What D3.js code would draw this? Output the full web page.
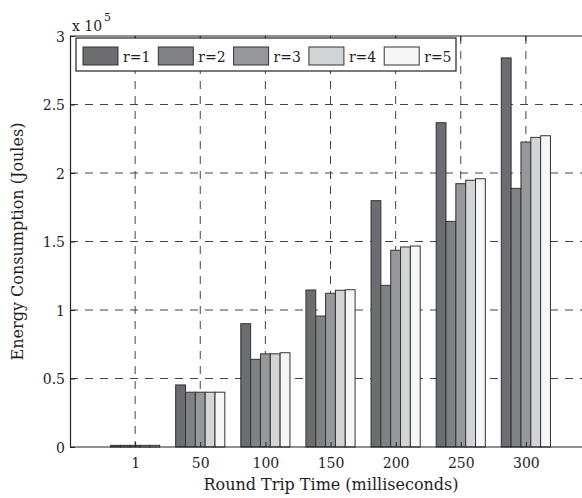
<!DOCTYPE html>
<html>
<head>
<meta charset="utf-8">
<script src="https://cdn.jsdelivr.net/npm/d3@7"></script>
<style>
  body { margin: 0; background: #fff; overflow: hidden; }
  svg { display: block; }
  text { font-family: "DejaVu Serif", serif; fill: #1e1e1e; }
</style>
</head>
<body>
<div id="chart"></div>
<script>
// round trip times (ms)
const categories = ['1', '50', '100', '150', '200', '250', '300']
const seriesNames = ['r=1', 'r=2', 'r=3', 'r=4', 'r=5']
// energy consumption, in units of 1e5 Joules
const r1 = [0.012, 0.453, 0.90, 1.146, 1.798, 2.367, 2.84]
const r2 = [0.012, 0.40, 0.64, 0.956, 1.18, 1.647, 1.888]
const r3 = [0.012, 0.40, 0.68, 1.122, 1.436, 1.922, 2.226]
const r4 = [0.012, 0.40, 0.68, 1.144, 1.46, 1.947, 2.26]
const r5 = [0.012, 0.40, 0.688, 1.148, 1.467, 1.958, 2.272]
const yTicks = [0, 0.5, 1, 1.5, 2, 2.5, 3]
const yTickLabels = ['0', '0.5', '1', '1.5', '2', '2.5', '3']
const colors = ['#6c6d71', '#808185', '#97989b', '#d3d4d6', '#f6f6f6']

const series = [r1, r2, r3, r4, r5]

const width = 582
const height = 498
const margin = { top: 36, bottom: 51, left: 70 }
// the axes box runs past the right edge of the picture
const plotWidth = 521
const visibleWidth = width - margin.left
const innerHeight = height - margin.top - margin.bottom

const svg = d3.select('#chart').append('svg')
  .attr('width', width)
  .attr('height', height)

const g = svg.append('g')
  .attr('transform', 'translate(' + margin.left + ',' + margin.top + ')')

// MATLAB style: group positions 1..7, limits 0..8
const x = d3.scaleLinear().domain([0, 8]).range([0, plotWidth])
const y = d3.scaleLinear().domain([0, 3]).range([innerHeight, 0])
const barW = 0.151

// grid
g.append('g').selectAll('line')
  .data(categories)
  .enter().append('line')
  .attr('x1', (d, i) => x(i + 1)).attr('x2', (d, i) => x(i + 1))
  .attr('y1', 0).attr('y2', innerHeight)
  .attr('stroke', '#444').attr('stroke-dasharray', '8,7')
g.append('g').selectAll('line')
  .data(yTicks.slice(1, -1))
  .enter().append('line')
  .attr('x1', 0).attr('x2', visibleWidth)
  .attr('y1', d => y(d)).attr('y2', d => y(d))
  .attr('stroke', '#444').attr('stroke-dasharray', '8,7')

// bars
series.forEach(function (vals, s) {
  g.append('g').selectAll('rect')
    .data(vals)
    .enter().append('rect')
    .attr('x', (d, i) => x(i + 1 + (s - 2.5) * barW))
    .attr('width', x(barW) - x(0))
    .attr('y', d => y(d))
    .attr('height', d => innerHeight - y(d))
    .attr('fill', colors[s])
    .attr('stroke', '#333')
    .attr('stroke-width', 1)
})

// axes
const xAxis = d3.axisBottom(x)
  .tickValues(d3.range(1, 8))
  .tickFormat((d) => categories[d - 1])
  .tickSize(-5).tickSizeOuter(0)
const gx = g.append('g').attr('transform', 'translate(0,' + innerHeight + ')').call(xAxis)
gx.select('.domain').attr('d', 'M0.5,0H' + visibleWidth)
gx.selectAll('.tick text').attr('y', 21).attr('dy', null)

const yAxis = d3.axisLeft(y)
  .tickValues(yTicks)
  .tickFormat((d, i) => yTickLabels[i])
  .tickSize(-5).tickSizeOuter(0).tickPadding(5)
const gy = g.append('g').call(yAxis)
gy.selectAll('.tick text').attr('y', 5).attr('dy', null)

// top ticks, no labels
g.append('g').selectAll('line')
  .data(d3.range(1, 8))
  .enter().append('line')
  .attr('x1', d => x(d)).attr('x2', d => x(d))
  .attr('y1', 0).attr('y2', 5)
  .attr('stroke', '#222')

g.selectAll('.domain').attr('stroke', '#222').attr('stroke-width', 1.2)
g.selectAll('.tick line').attr('stroke', '#222')
g.selectAll('.tick text').attr('font-size', 14).attr('font-family', 'DejaVu Serif').attr('fill', '#1e1e1e')

// box top
g.append('line').attr('x1', 0).attr('x2', visibleWidth).attr('y1', 0).attr('y2', 0)
  .attr('stroke', '#222').attr('stroke-width', 1.2)

// exponent
svg.append('text').attr('x', 72).attr('y', 31).attr('font-size', 14).text('x 10')
svg.append('text').attr('x', 104).attr('y', 21).attr('font-size', 11).text('5')

// labels
svg.append('text')
  .attr('x', 331).attr('y', 490)
  .attr('text-anchor', 'middle').attr('font-size', 16)
  .text('Round Trip Time (milliseconds)')
svg.append('text')
  .attr('transform', 'translate(23,' + (margin.top + innerHeight / 2) + ') rotate(-90)')
  .attr('text-anchor', 'middle').attr('font-size', 16)
  .text('Energy Consumption (Joules)')

// legend
const lg = svg.append('g').attr('transform', 'translate(76,38)')
lg.append('rect').attr('width', 380).attr('height', 33)
  .attr('fill', '#fff').attr('stroke', '#222').attr('stroke-width', 1.2)
seriesNames.forEach(function (name, i) {
  const item = lg.append('g').attr('transform', 'translate(' + (7 + i * 75.3) + ',9)')
  item.append('rect').attr('width', 35).attr('height', 18)
    .attr('fill', colors[i]).attr('stroke', '#333')
  item.append('text').attr('x', 40).attr('y', 14.5).attr('font-size', 14).text(name)
})
</script>
</body>
</html>
